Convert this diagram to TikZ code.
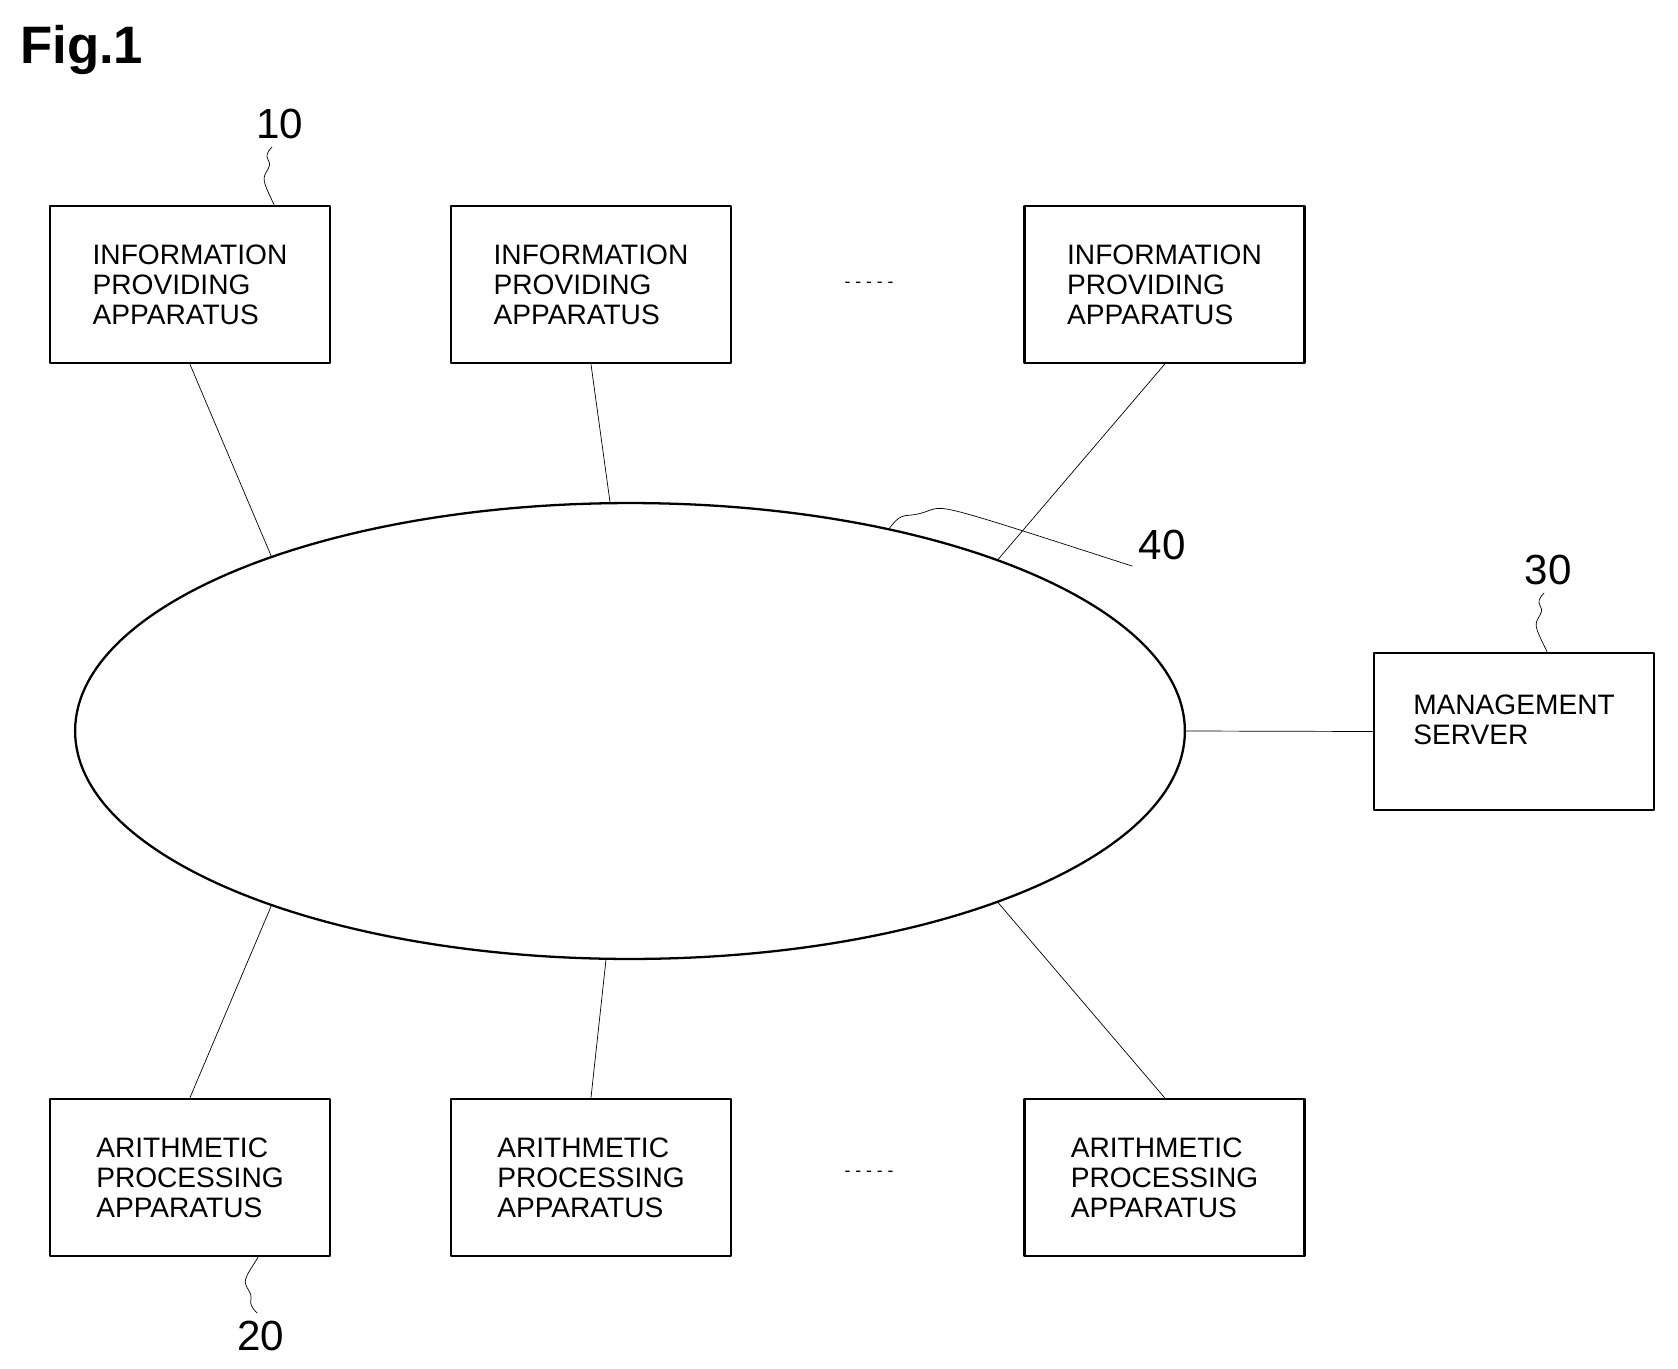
\documentclass[tikz,border=0pt]{standalone}
\usepackage{fontspec}
\setmainfont{Liberation Sans}
\usetikzlibrary{shapes.geometric}
\begin{document}
\begin{tikzpicture}[line cap=round,line join=round,x=0.02cm,y=-0.02cm,
  box/.style={draw,line width=1.6pt,minimum width=5.6cm,minimum height=3.14cm,align=left,font=\fontsize{16}{17}\selectfont},
  refnum/.style={font=\fontsize{24}{26}\selectfont}]
\useasboundingbox (0,0) rectangle (1678,1369);
\node[anchor=west,font=\bfseries\fontsize{30}{32}\selectfont] (fig) at (14,50) {Fig.1};
% network
\node[draw,ellipse,line width=1.3pt,minimum width=22.2cm,minimum height=9.12cm] (net) at (630,731) {};
% information providing apparatuses
\node[box] (ip1) at (190,284.5) {INFORMATION\\PROVIDING\\ APPARATUS};
\node[box] (ip2) at (591,284.5) {INFORMATION\\PROVIDING\\ APPARATUS};
\node[box] (ip3) at (1164.5,284.5) {INFORMATION\\PROVIDING\\ APPARATUS};
% arithmetic processing apparatuses
\node[box] (ap1) at (190,1177.5) {ARITHMETIC\\PROCESSING\\APPARATUS};
\node[box] (ap2) at (591,1177.5) {ARITHMETIC\\PROCESSING\\APPARATUS};
\node[box] (ap3) at (1164.5,1177.5) {ARITHMETIC\\PROCESSING\\APPARATUS};
% management server
\node[box,minimum width=5.6cm] (srv) at (1514,731.5) {MANAGEMENT\\SERVER\\[-0.2em]};
% dots
\node (dotsT) at (869,285) {- - - - -};
\node (dotsB) at (869,1174) {- - - - -};
% connectors
\draw (ip1.south) -- (net.154);
\draw (ip2.south) -- (net.95);
\draw (ip3.south) -- (net.25);
\draw (ap1.north) -- (net.206);
\draw (ap2.north) -- (net.264);
\draw (ap3.north) -- (net.335);
\draw (net.east) -- (srv.west);
% reference numerals
\node[refnum] (n10) at (280,124) {10};
\node[refnum] (n20) at (261,1336) {20};
\node[refnum] (n30) at (1548,570) {30};
\node[refnum] (n40) at (1162,545) {40};
\draw (n10.south) ++(-8,2) .. controls +(-12,12) and +(6,-10) .. ++(-4,22) .. controls +(-6,10) .. (ip1.north -| 274,0);
\draw (n20.north) ++(-4,-2) .. controls +(-12,-12) and +(6,10) .. ++(-8,-22) .. controls +(-6,-10) .. (ap1.south -| 258,0);
\draw (n30.south) ++(-4,2) .. controls +(-12,12) and +(6,-10) .. ++(-4,22) .. controls +(-6,10) .. (srv.north -| 1547,0);
\draw (net.38) .. controls +(15,-20) and +(-25,10) .. ++(40,-18) .. controls +(15,-5) .. (n40.south west);
\end{tikzpicture}
\end{document}
